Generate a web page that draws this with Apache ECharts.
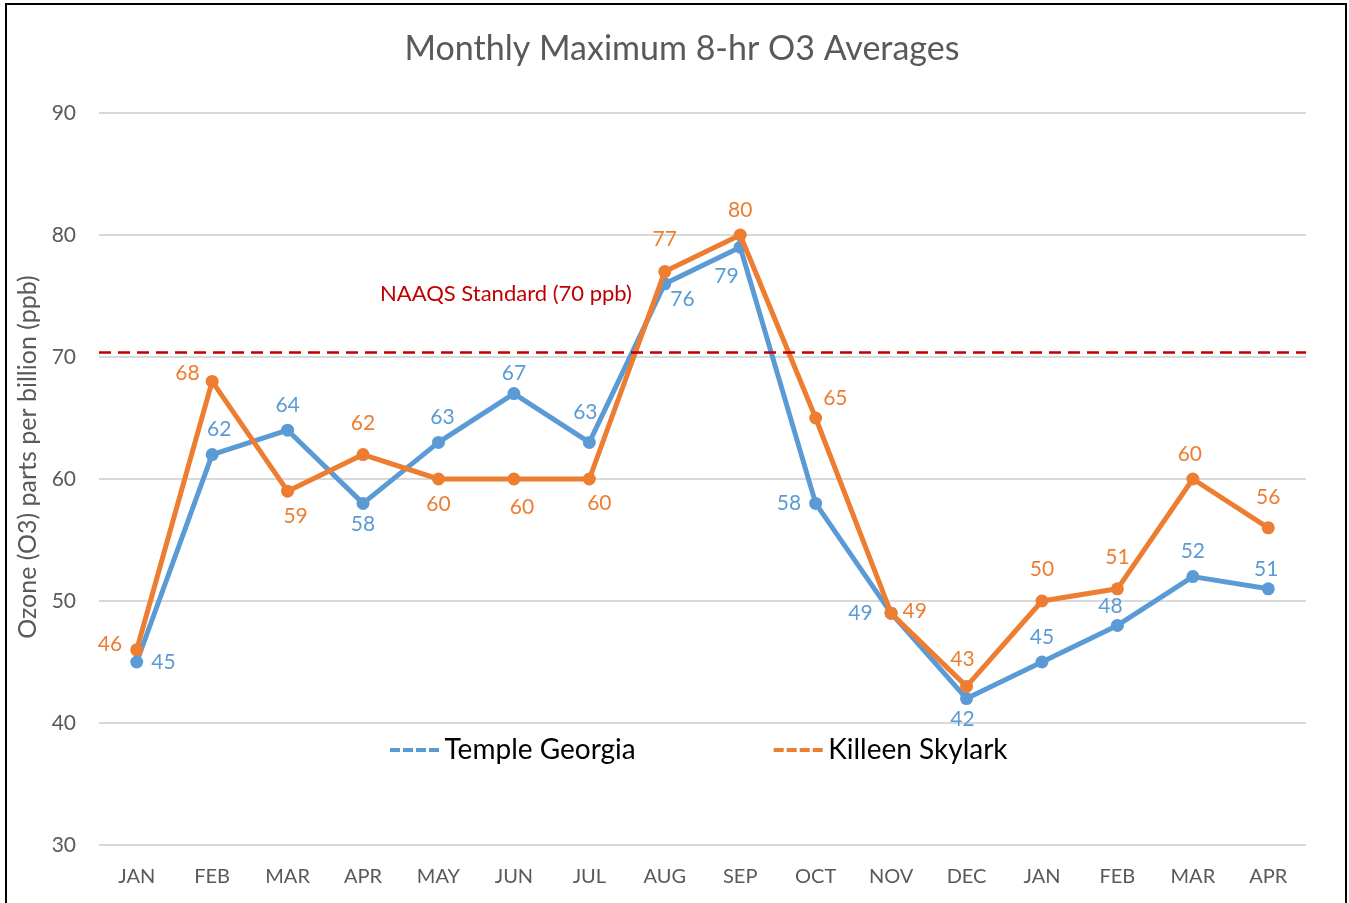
<!DOCTYPE html>
<html>
<head>
<meta charset="utf-8">
<title>Monthly Maximum 8-hr O3 Averages</title>
<script src="https://cdn.jsdelivr.net/npm/echarts@6/dist/echarts.min.js"></script>
<style>
  html, body { margin: 0; padding: 0; background: #fff; overflow: hidden; }
  #chart { width: 1349px; height: 903px; }
  .frame {
    position: absolute; left: 5px; top: 3px; width: 1338px; height: 920px;
    border: 2px solid #000; pointer-events: none;
  }
</style>
</head>
<body>
<div id="chart"></div>
<div class="frame"></div>
<script>
// data
const months = ['JAN', 'FEB', 'MAR', 'APR', 'MAY', 'JUN', 'JUL', 'AUG', 'SEP', 'OCT', 'NOV', 'DEC', 'JAN', 'FEB', 'MAR', 'APR']
const templeGeorgia = [45, 62, 64, 58, 63, 67, 63, 76, 79, 58, 49, 42, 45, 48, 52, 51]
const killeenSkylark = [46, 68, 59, 62, 60, 60, 60, 77, 80, 65, 49, 43, 50, 51, 60, 56]
const naaqsLevel = 70.4
const yTicks = { min: 30, max: 90, step: 10 }

// where each data label sits (style only)
const bluePos = ['right', 'top', 'top', 'bottom', 'top', 'top', 'top', 'right', 'left', 'left', 'left', 'bottom', 'top', 'top', 'top', 'top']
const orangePos = ['left', 'left', 'bottom', 'top', 'bottom', 'bottom', 'bottom', 'top', 'top', 'right', 'right', 'top', 'top', 'top', 'top', 'top']
const blueOff = { 1: [7, 0], 3: [0, -4], 4: [4, 0], 5: [0, 5], 6: [-4, -5], 7: [-9, 15], 8: [13, 29], 10: [-4, 0], 11: [-4, -4], 13: [-7, 6], 15: [-2, 5] }
const orangeOff = { 0: [0, -6], 1: [2, -8], 2: [8, 0], 3: [0, -6], 5: [8, 3], 6: [10, -1], 7: [0, -7], 9: [-7, -20], 10: [-3, -2], 11: [-4, -2], 12: [0, -7], 13: [0, -7], 14: [-3, 0], 15: [0, -6] }

const BLUE = '#5B9BD5'
const ORANGE = '#ED7D31'
const FONT = 'Lato, "Open Sans", sans-serif'

function items(values, pos, off, color) {
  return values.map((v, i) => ({
    value: v,
    label: {
      show: true,
      position: pos[i],
      offset: off[i] || [0, 0],
      distance: 8,
      color: color,
      fontSize: 21,
      fontFamily: FONT
    }
  }))
}

const dashIcon = 'path://M0,0h10v4h-10z M13,0h10v4h-10z M26,0h10v4h-10z M39,0h10v4h-10z'

const chart = echarts.init(document.getElementById('chart'))
chart.setOption({
  animation: false,
  title: {
    text: 'Monthly Maximum 8-hr O3 Averages',
    top: 27,
    left: 677,
    textAlign: 'center',
    textStyle: { fontSize: 34, fontWeight: 'normal', color: '#595959', fontFamily: FONT }
  },
  legend: {
    left: 385,
    top: 731,
    itemWidth: 50,
    itemHeight: 4,
    itemGap: 138,
    icon: dashIcon,
    textStyle: { fontSize: 28, color: '#000', fontFamily: FONT },
    data: ['Temple Georgia', 'Killeen Skylark']
  },
  grid: { left: 99, right: 43, top: 113, bottom: 58 },
  xAxis: {
    type: 'category',
    data: months,
    boundaryGap: true,
    axisLine: { show: false },
    axisTick: { show: false },
    axisLabel: { color: '#595959', fontSize: 20, margin: 22, fontFamily: FONT }
  },
  yAxis: {
    type: 'value',
    min: yTicks.min,
    max: yTicks.max,
    interval: yTicks.step,
    axisLine: { show: false },
    axisTick: { show: false },
    axisLabel: { color: '#595959', fontSize: 21, margin: 23, fontFamily: FONT },
    splitLine: { lineStyle: { color: '#D9D9D9', width: 2 } }
  },
  graphic: [
    {
      type: 'text',
      x: 28,
      y: 457,
      rotation: Math.PI / 2,
      style: {
        text: 'Ozone (O3) parts per billion (ppb)',
        fill: '#595959', fontSize: 25, fontFamily: FONT,
        align: 'center', verticalAlign: 'middle'
      }
    },
    {
      type: 'text',
      left: 380,
      top: 283,
      style: { text: 'NAAQS Standard (70 ppb)', fill: '#C00000', fontSize: 22, fontFamily: FONT }
    }
  ],
  series: [
    {
      name: 'Temple Georgia',
      type: 'line',
      data: items(templeGeorgia, bluePos, blueOff, BLUE),
      color: BLUE,
      lineStyle: { width: 5, color: BLUE },
      symbol: 'circle',
      symbolSize: 13,
      itemStyle: { color: BLUE },
      z: 2
    },
    {
      name: 'Killeen Skylark',
      type: 'line',
      data: items(killeenSkylark, orangePos, orangeOff, ORANGE),
      color: ORANGE,
      lineStyle: { width: 5, color: ORANGE },
      symbol: 'circle',
      symbolSize: 13,
      itemStyle: { color: ORANGE },
      z: 3,
      markLine: {
        silent: true,
        symbol: 'none',
        label: { show: false },
        lineStyle: { color: '#C00000', type: [12, 7], width: 2.5 },
        data: [{ yAxis: naaqsLevel }]
      }
    }
  ]
})
</script>
</body>
</html>
